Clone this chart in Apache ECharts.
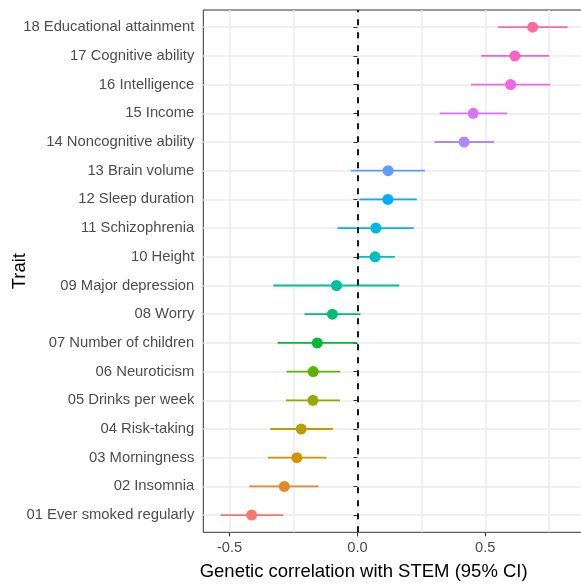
<!DOCTYPE html>
<html>
<head>
<meta charset="utf-8">
<script src="https://cdn.jsdelivr.net/npm/echarts@6/dist/echarts.min.js"></script>
<style>html,body{margin:0;padding:0;background:#fff;}#c{width:581px;height:585px;}</style>
</head>
<body>
<div id="c"></div>
<script>
// Traits in order 01..18 (bottom to top)
var traits = [
  "01 Ever smoked regularly", "02 Insomnia", "03 Morningness", "04 Risk-taking",
  "05 Drinks per week", "06 Neuroticism", "07 Number of children", "08 Worry",
  "09 Major depression", "10 Height", "11 Schizophrenia", "12 Sleep duration",
  "13 Brain volume", "14 Noncognitive ability", "15 Income", "16 Intelligence",
  "17 Cognitive ability", "18 Educational attainment"
];
var estimate = [-0.414, -0.286, -0.237, -0.220, -0.174, -0.173, -0.157, -0.098, -0.082,
  0.069, 0.072, 0.119, 0.120, 0.417, 0.453, 0.599, 0.616, 0.685];
var lower = [-0.535, -0.423, -0.350, -0.341, -0.280, -0.277, -0.312, -0.207, -0.329,
  0.002, -0.078, 0.007, -0.026, 0.301, 0.322, 0.444, 0.484, 0.550];
var upper = [-0.290, -0.152, -0.121, -0.096, -0.068, -0.068, -0.002, 0.012, 0.164,
  0.146, 0.220, 0.232, 0.264, 0.534, 0.586, 0.754, 0.750, 0.822];
var xTickLabels = [-0.5, 0, 0.5];
var xGridValues = [-0.5, -0.25, 0, 0.25, 0.5, 0.75];
var palette = ["#F8766D", "#E88526", "#D39200", "#B79F00", "#93AA00", "#5EB300", "#00BA38",
  "#00BF74", "#00C19F", "#00BFC4", "#00B9E3", "#00ADFA", "#619CFF", "#AE87FF", "#DB72FB",
  "#F564E3", "#FF61C3", "#FF699C"];

var rows = traits.map(function (t, i) { return i + 1; });
var pointData = estimate.map(function (v, i) {
  return { value: [v, i + 1], itemStyle: { color: palette[i], opacity: 1 } };
});
var barData = estimate.map(function (v, i) { return [lower[i], upper[i], i + 1]; });

var chart = echarts.init(document.getElementById('c'), null, { renderer: 'canvas' });
var font = 'Liberation Sans, Arial, sans-serif';
chart.setOption({
  animation: false,
  backgroundColor: '#ffffff',
  grid: { left: 203.3, top: 10, right: -4, bottom: 52.7, show: true, borderColor: '#333333', borderWidth: 1,
    backgroundColor: 'transparent', containLabel: false, outerBoundsMode: 'none' },
  xAxis: [{
    type: 'value', min: -0.603, max: 0.89,
    axisLine: { show: false },
    axisTick: { show: false, customValues: xGridValues },
    axisLabel: { show: true, customValues: xTickLabels, margin: 8, color: '#4D4D4D', fontSize: 14.7, fontFamily: font,
      formatter: function (v) { return v.toFixed(1); } },
    splitLine: { show: true, lineStyle: { color: '#EBEBEB', width: 1.5 } },
    name: 'Genetic correlation with STEM (95% CI)', nameLocation: 'middle', nameGap: 30, nameMoveOverlap: false,
    nameTextStyle: { color: '#000000', fontSize: 18.5, fontFamily: font, padding: [0, 61, 0, 0] }
  }, {
    type: 'value', min: -0.603, max: 0.89, position: 'bottom',
    axisLine: { show: false },
    axisTick: { show: true, customValues: xTickLabels, length: 4, lineStyle: { color: '#333333', width: 1 } },
    axisLabel: { show: false },
    splitLine: { show: false }
  }],
  yAxis: {
    type: 'value', min: 0.4, max: 18.6,
    axisLine: { show: false },
    axisTick: { show: true, customValues: rows, length: 4, lineStyle: { color: '#333333', width: 1 } },
    axisLabel: { show: true, customValues: rows, margin: 9, color: '#4D4D4D', fontSize: 14.8, fontFamily: font,
      formatter: function (v) { return traits[Math.round(v) - 1]; } },
    splitLine: { show: true, lineStyle: { color: '#EBEBEB', width: 1.5 } },
    name: 'Trait', nameLocation: 'middle', nameGap: 174, nameRotate: 90, nameMoveOverlap: false,
    nameTextStyle: { color: '#000000', fontSize: 18.5, fontFamily: font }
  },
  series: [{
    type: 'custom',
    xAxisIndex: 0,
    data: barData,
    renderItem: function (params, api) {
      var a = api.coord([api.value(0), api.value(2)]);
      var b = api.coord([api.value(1), api.value(2)]);
      var idx = params.dataIndex;
      return {
        type: 'line',
        shape: { x1: a[0], y1: a[1], x2: b[0], y2: b[1] },
        style: { stroke: palette[idx], lineWidth: 1.8 }
      };
    },
    z: 2
  }, {
    type: 'scatter',
    xAxisIndex: 0,
    symbol: 'circle',
    symbolSize: 11,
    data: pointData,
    z: 3,
    markLine: {
      silent: true,
      symbol: 'none',
      label: { show: false },
      lineStyle: { color: '#000000', type: [6, 7], width: 1.8 },
      data: [{ xAxis: 0 }],
      z: 4
    }
  }]
});
</script>
</body>
</html>
